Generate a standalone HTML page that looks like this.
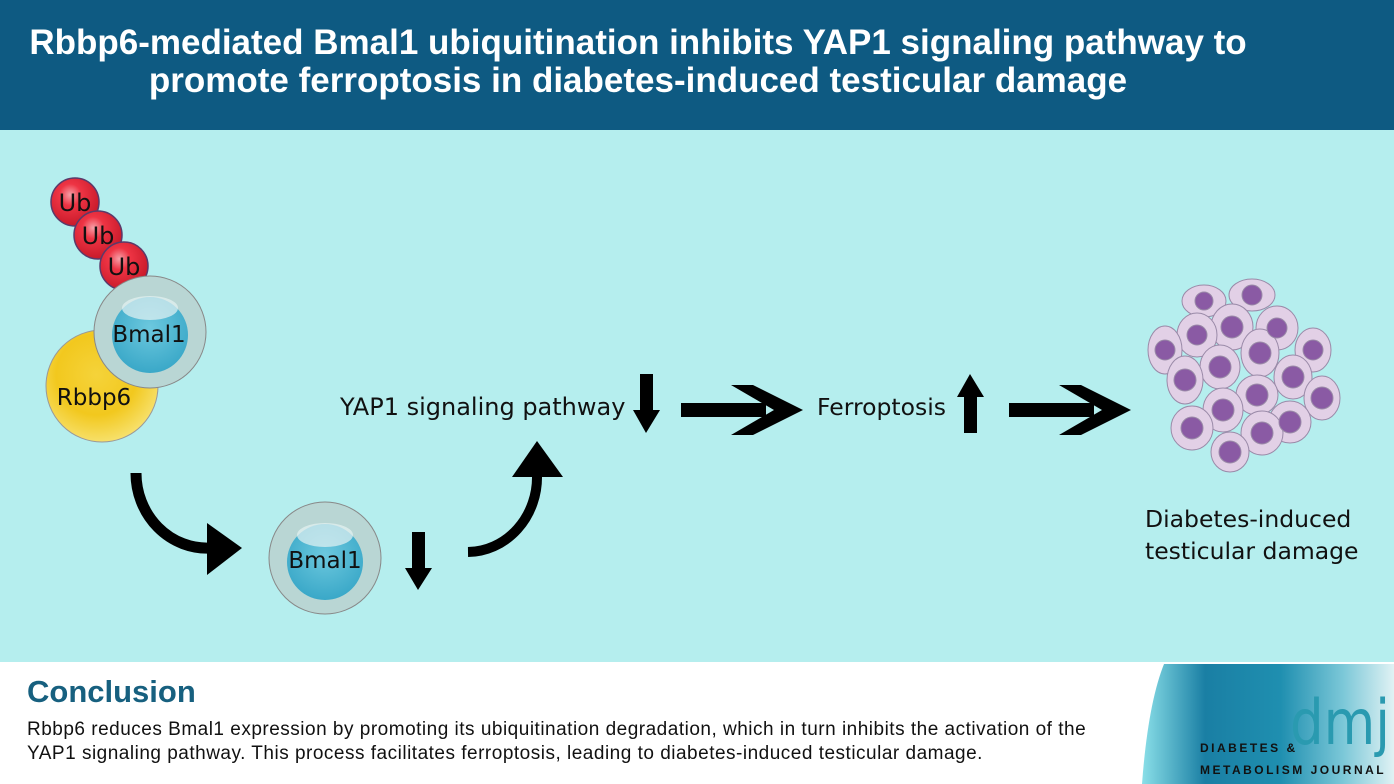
<!DOCTYPE html>
<html><head><meta charset="utf-8"><style>
html,body{margin:0;padding:0;}
body{width:1394px;height:784px;position:relative;overflow:hidden;background:#b5eeee;font-family:"Liberation Sans",sans-serif;}
.hdr{position:absolute;left:0;top:0;width:1394px;height:130px;background:#0e5a82;}
.title{position:absolute;left:0;top:24px;width:1276px;text-align:center;color:#fff;font-weight:bold;font-size:35px;line-height:38px;}
.foot{position:absolute;left:0;top:662px;width:1394px;height:122px;background:#fff;}
.t{position:absolute;color:#111;white-space:nowrap;font-family:'DejaVu Sans',sans-serif;}
</style></head><body>
<div class="hdr"></div>
<div class="title">Rbbp6-mediated Bmal1 ubiquitination inhibits YAP1 signaling pathway to<br>promote ferroptosis in diabetes-induced testicular damage</div>

<svg width="1394" height="784" style="position:absolute;left:0;top:0">
<defs>
<radialGradient id="red" cx="40%" cy="35%" r="65%"><stop offset="0" stop-color="#f7a0a8"/><stop offset="0.35" stop-color="#ee3444"/><stop offset="1" stop-color="#c81a2a"/></radialGradient>
<radialGradient id="yel" cx="45%" cy="40%" r="60%"><stop offset="0" stop-color="#f5d33a"/><stop offset="0.6" stop-color="#f2c81e"/><stop offset="1" stop-color="#f7e06a"/></radialGradient>
<radialGradient id="blu" cx="50%" cy="40%" r="60%"><stop offset="0" stop-color="#6cc8de"/><stop offset="1" stop-color="#3aa8c8"/></radialGradient>
<linearGradient id="lg" x1="0" x2="1"><stop offset="0" stop-color="#8adfe8"/><stop offset="0.25" stop-color="#1a7fa4"/><stop offset="0.55" stop-color="#1f8fb0"/><stop offset="0.8" stop-color="#7cc8d8"/><stop offset="1" stop-color="#e0f2f4"/></linearGradient>
</defs>
<circle cx="75" cy="202" r="24" fill="url(#red)" stroke="#5a3a6a" stroke-width="1.5"/>
<circle cx="98" cy="235" r="24" fill="url(#red)" stroke="#5a3a6a" stroke-width="1.5"/>
<circle cx="124" cy="266" r="24" fill="url(#red)" stroke="#5a3a6a" stroke-width="1.5"/>
<text x="75" y="211" font-size="24" text-anchor="middle" font-family="DejaVu Sans" fill="#111">Ub</text>
<text x="98" y="244" font-size="24" text-anchor="middle" font-family="DejaVu Sans" fill="#111">Ub</text>
<text x="124" y="275" font-size="24" text-anchor="middle" font-family="DejaVu Sans" fill="#111">Ub</text>
<circle cx="102" cy="386" r="56" fill="url(#yel)" stroke="#999" stroke-width="1"/>
<text x="94" y="405" font-size="23" text-anchor="middle" font-family="DejaVu Sans" fill="#111">Rbbp6</text>
<circle cx="150" cy="332" r="56" fill="#b9d6d4" stroke="#888" stroke-width="1"/>
<circle cx="150" cy="335" r="38" fill="url(#blu)"/>
<ellipse cx="150" cy="308" rx="28" ry="12" fill="#e6f2f2" opacity="0.7"/>
<text x="149" y="342" font-size="23" text-anchor="middle" font-family="DejaVu Sans" fill="#111">Bmal1</text>
<circle cx="325" cy="558" r="56" fill="#b9d6d4" stroke="#888" stroke-width="1"/>
<circle cx="325" cy="562" r="38" fill="url(#blu)"/>
<ellipse cx="325" cy="535" rx="28" ry="12" fill="#e6f2f2" opacity="0.7"/>
<text x="325" y="568" font-size="23" text-anchor="middle" font-family="DejaVu Sans" fill="#111">Bmal1</text>
<path d="M136 473 A71 75 0 0 0 210 548" fill="none" stroke="#000" stroke-width="11"/>
<polygon points="207,523 207,575 242,548" fill="#000"/>
<path d="M468 552 A70 75 0 0 0 537 475" fill="none" stroke="#000" stroke-width="10"/>
<polygon points="512,477 563,477 537,441" fill="#000"/>
<polygon points="412,532 425,532 425,568 432,568 418,590 405,568 412,568" fill="#000"/>
<polygon points="640,374 653,374 653,410 660,410 646,433 633,410 640,410" fill="#000"/>
<polygon points="964,433 977,433 977,397 984,397 970,374 957,397 964,397" fill="#000"/>
<rect x="681" y="403" width="85" height="14" fill="#000"/>
<polygon points="731,385 753,385 803,410 753,435 731,435 774,410" fill="#000"/>
<rect x="1009" y="403" width="85" height="14" fill="#000"/>
<polygon points="1059,385 1081,385 1131,410 1081,435 1059,435 1102,410" fill="#000"/>
<g stroke="#9a8aa8" stroke-width="1">
<g fill="#e2d0e6">
<ellipse cx="1204" cy="301" rx="22" ry="16"/><ellipse cx="1252" cy="295" rx="23" ry="16"/>
<ellipse cx="1232" cy="327" rx="21" ry="23"/><ellipse cx="1197" cy="335" rx="20" ry="22"/>
<ellipse cx="1277" cy="328" rx="21" ry="22"/><ellipse cx="1165" cy="350" rx="17" ry="24"/>
<ellipse cx="1313" cy="350" rx="18" ry="22"/><ellipse cx="1220" cy="367" rx="20" ry="22"/>
<ellipse cx="1260" cy="353" rx="19" ry="24"/><ellipse cx="1185" cy="380" rx="18" ry="24"/>
<ellipse cx="1293" cy="377" rx="19" ry="22"/><ellipse cx="1257" cy="395" rx="21" ry="20"/>
<ellipse cx="1322" cy="398" rx="18" ry="22"/><ellipse cx="1223" cy="410" rx="20" ry="22"/>
<ellipse cx="1192" cy="428" rx="21" ry="22"/><ellipse cx="1290" cy="422" rx="21" ry="21"/>
<ellipse cx="1262" cy="433" rx="21" ry="22"/><ellipse cx="1230" cy="452" rx="19" ry="20"/>
</g>
<g fill="#8a5aa4">
<circle cx="1204" cy="301" r="9"/><circle cx="1252" cy="295" r="10"/><circle cx="1232" cy="327" r="11"/>
<circle cx="1197" cy="335" r="10"/><circle cx="1277" cy="328" r="10"/><circle cx="1165" cy="350" r="10"/>
<circle cx="1313" cy="350" r="10"/><circle cx="1220" cy="367" r="11"/><circle cx="1260" cy="353" r="11"/>
<circle cx="1185" cy="380" r="11"/><circle cx="1293" cy="377" r="11"/><circle cx="1257" cy="395" r="11"/>
<circle cx="1322" cy="398" r="11"/><circle cx="1223" cy="410" r="11"/><circle cx="1192" cy="428" r="11"/>
<circle cx="1290" cy="422" r="11"/><circle cx="1262" cy="433" r="11"/><circle cx="1230" cy="452" r="11"/>
</g>
</g>
</svg>

<div class="t" style="left:340px;top:393px;font-size:24px;">YAP1 signaling pathway</div>
<div class="t" style="left:817px;top:393px;font-size:23.5px;">Ferroptosis</div>
<div class="t" style="left:1145px;top:503px;font-size:23.5px;line-height:32px;">Diabetes-induced<br>testicular damage</div>

<div class="foot"></div>
<svg width="260" height="120" style="position:absolute;left:1134px;top:664px">
<path d="M8 120 Q14 40 30 0 L260 0 L260 120 Z" fill="url(#lg)"/>
<text x="156" y="80" font-size="62" fill="#2a9ab0" font-family="DejaVu Sans" textLength="100" lengthAdjust="spacingAndGlyphs">dmj</text>
<text x="66" y="88" font-size="12" font-weight="bold" fill="#111" letter-spacing="2.5">DIABETES &amp;</text>
<text x="66" y="110" font-size="12" font-weight="bold" fill="#111" letter-spacing="2.5">METABOLISM JOURNAL</text>
</svg>
<div style="position:absolute;left:27px;top:674px;font-size:31px;font-weight:bold;color:#17607f;">Conclusion</div>
<div style="position:absolute;left:27px;top:718px;font-size:19px;letter-spacing:0.5px;line-height:24px;color:#111;white-space:nowrap;">Rbbp6 reduces Bmal1 expression by promoting its ubiquitination degradation, which in turn inhibits the activation of the<br>YAP1 signaling pathway. This process facilitates ferroptosis, leading to diabetes-induced testicular damage.</div>
</body></html>
